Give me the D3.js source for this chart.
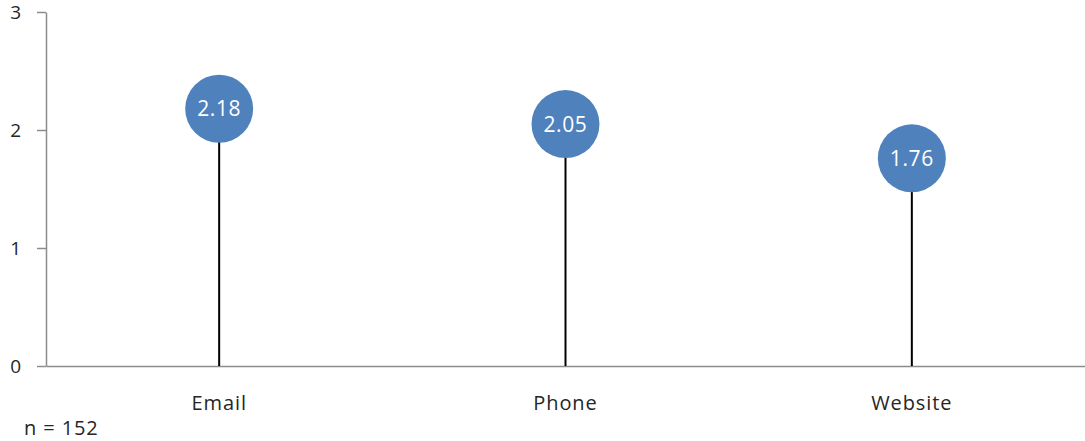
<!DOCTYPE html>
<html>
<head>
<meta charset="utf-8">
<script src="https://cdn.jsdelivr.net/npm/d3@7"></script>
<style>
  html, body { margin: 0; padding: 0; background: #fff; }
  svg text { font-family: "Open Sans", Lato, sans-serif; font-weight: 400; }
</style>
</head>
<body>
<svg id="chart" width="1085" height="441"></svg>
<script>
// Average score per contact channel
const categories = ["Email", "Phone", "Website"];
const scores = [2.18, 2.05, 1.76];
const yTicks = [0, 1, 2, 3];
const sampleNote = "n = 152";

const svg = d3.select("#chart");
const margin = { left: 46, right: 0, top: 12, bottom: 75 };
const W = 1085, H = 441;

const x = d3.scaleBand()
  .domain(categories)
  .range([margin.left, W - margin.right])
  .paddingInner(0).paddingOuter(0);

const y = d3.scaleLinear()
  .domain([0, 3])
  .range([H - margin.bottom, margin.top]);

// y axis
const yAxis = svg.append("g")
  .attr("transform", `translate(${margin.left},0)`)
  .call(d3.axisLeft(y).tickValues(yTicks).tickFormat(d3.format("d")).tickSize(9).tickSizeOuter(0));
yAxis.select(".domain").attr("stroke", "#8c8c8c").attr("stroke-width", 1.5);
yAxis.selectAll(".tick line").attr("stroke", "#8c8c8c").attr("stroke-width", 1.5);
yAxis.selectAll(".tick text")
  .attr("x", -25)
  .attr("fill", "#262626")
  .style("font-size", "19px");

// x axis baseline
const xAxis = svg.append("g")
  .attr("transform", `translate(0,${y(0)})`)
  .call(d3.axisBottom(x).tickSize(0).tickSizeOuter(0));
xAxis.select(".domain").attr("stroke", "#8c8c8c").attr("stroke-width", 1.5);
xAxis.selectAll(".tick text")
  .attr("dy", 0)
  .attr("y", 44)
  .attr("fill", "#262626")
  .style("font-size", "20px")
  .style("letter-spacing", "0.9px");

const data = categories.map((c, i) => ({ cat: c, v: scores[i] }));

// stems
svg.append("g").selectAll("line")
  .data(data).join("line")
  .attr("x1", d => x(d.cat) + x.bandwidth() / 2)
  .attr("x2", d => x(d.cat) + x.bandwidth() / 2)
  .attr("y1", y(0))
  .attr("y2", d => y(d.v))
  .attr("stroke", "#000")
  .attr("stroke-width", 2);

// markers
svg.append("g").selectAll("circle")
  .data(data).join("circle")
  .attr("cx", d => x(d.cat) + x.bandwidth() / 2)
  .attr("cy", d => y(d.v))
  .attr("r", 34)
  .attr("fill", "#4f81bd");

// value labels
svg.append("g").selectAll("text")
  .data(data).join("text")
  .attr("x", d => x(d.cat) + x.bandwidth() / 2)
  .attr("y", d => y(d.v))
  .attr("dy", "0.36em")
  .attr("text-anchor", "middle")
  .attr("fill", "#fff")
  .style("font-size", "21px")
  .style("letter-spacing", "0.6px")
  .text(d => d3.format(".2f")(d.v));

// sample size note
svg.append("text")
  .attr("x", 24)
  .attr("y", 435)
  .attr("fill", "#262626")
  .style("font-size", "20px")
  .style("letter-spacing", "0.9px")
  .text(sampleNote);
</script>
</body>
</html>
